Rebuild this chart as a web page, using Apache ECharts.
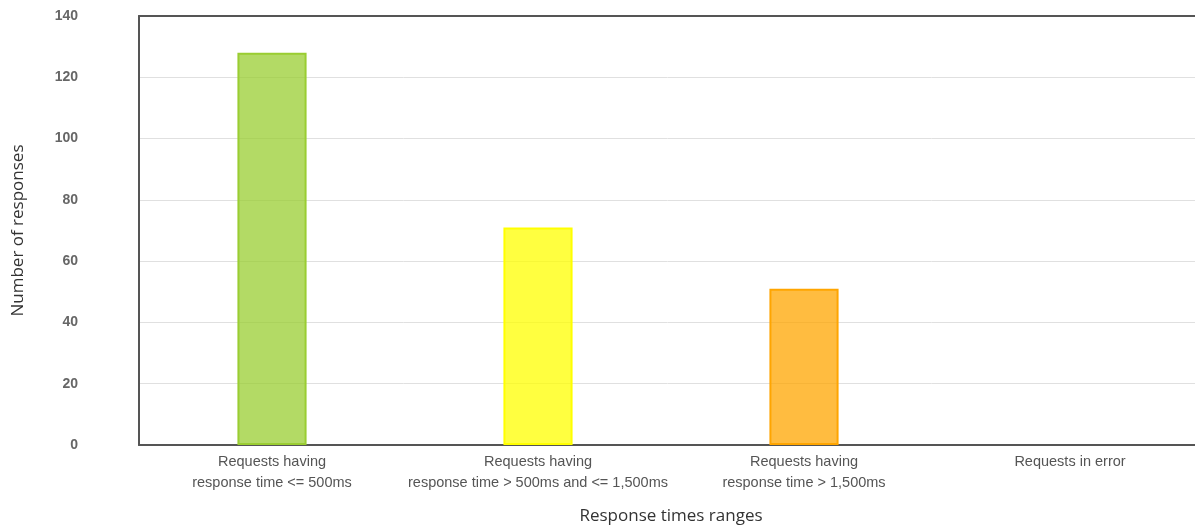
<!DOCTYPE html>
<html>
<head>
<meta charset="utf-8">
<script src="https://cdn.jsdelivr.net/npm/echarts@6/dist/echarts.min.js"></script>
<style>
html,body{margin:0;padding:0;background:#fff;}
#chart{width:1195px;height:526px;}
</style>
</head>
<body>
<div id="chart"></div>
<script>
const categories = [
  "Requests having\nresponse time <= 500ms",
  "Requests having\nresponse time > 500ms and <= 1,500ms",
  "Requests having\nresponse time > 1,500ms",
  "Requests in error"
];
const values = [128, 71, 51, 0];
const borderColors = ["#9acd32", "#ffff00", "#ffa500", "#ff0000"];
const fillColors = ["rgba(154,205,50,0.75)", "rgba(255,255,0,0.75)", "rgba(255,165,0,0.75)", "rgba(255,0,0,0.75)"];
const yTicks = { min: 0, max: 140, interval: 20 };

const chart = echarts.init(document.getElementById('chart'), null, { renderer: 'canvas' });
chart.setOption({
  animation: false,
  grid: { left: 139, right: -8, top: 16, bottom: 81, containLabel: false, outerBoundsMode: 'none' },
  xAxis: [{
    type: 'category',
    data: categories,
    name: 'Response times ranges',
    nameLocation: 'middle',
    nameGap: 63,
    nameTextStyle: { fontFamily: 'Open Sans', fontSize: 17, color: '#333' },
    axisLine: { show: true, lineStyle: { color: '#555', width: 2 } },
    axisTick: { show: false },
    axisLabel: { fontFamily: 'Liberation Sans', fontSize: 14.5, color: '#555', lineHeight: 21, margin: 6, interval: 0 },
    splitLine: { show: false }
  }, {
    type: 'category',
    data: categories,
    position: 'top',
    axisLine: { show: true, lineStyle: { color: '#555', width: 2 } },
    axisTick: { show: false },
    axisLabel: { show: false }
  }],
  yAxis: {
    type: 'value',
    min: yTicks.min, max: yTicks.max, interval: yTicks.interval,
    name: 'Number of responses',
    nameLocation: 'middle',
    nameGap: 112,
    nameTextStyle: { fontFamily: 'Open Sans', fontSize: 17, color: '#333' },
    axisLine: { show: true, lineStyle: { color: '#555', width: 2 } },
    axisTick: { show: false },
    axisLabel: { fontFamily: 'Liberation Sans', fontSize: 14, fontWeight: 'bold', color: '#666', margin: 61 },
    splitLine: { show: true, lineStyle: { color: '#e0e0e0', width: 1 } }
  },
  series: [{
    type: 'bar',
    barWidth: '26%',
    data: values.map((v, i) => ({
      value: v,
      itemStyle: { color: fillColors[i], borderColor: borderColors[i], borderWidth: v > 0 ? 2 : 0 }
    }))
  }]
});
</script>
</body>
</html>
